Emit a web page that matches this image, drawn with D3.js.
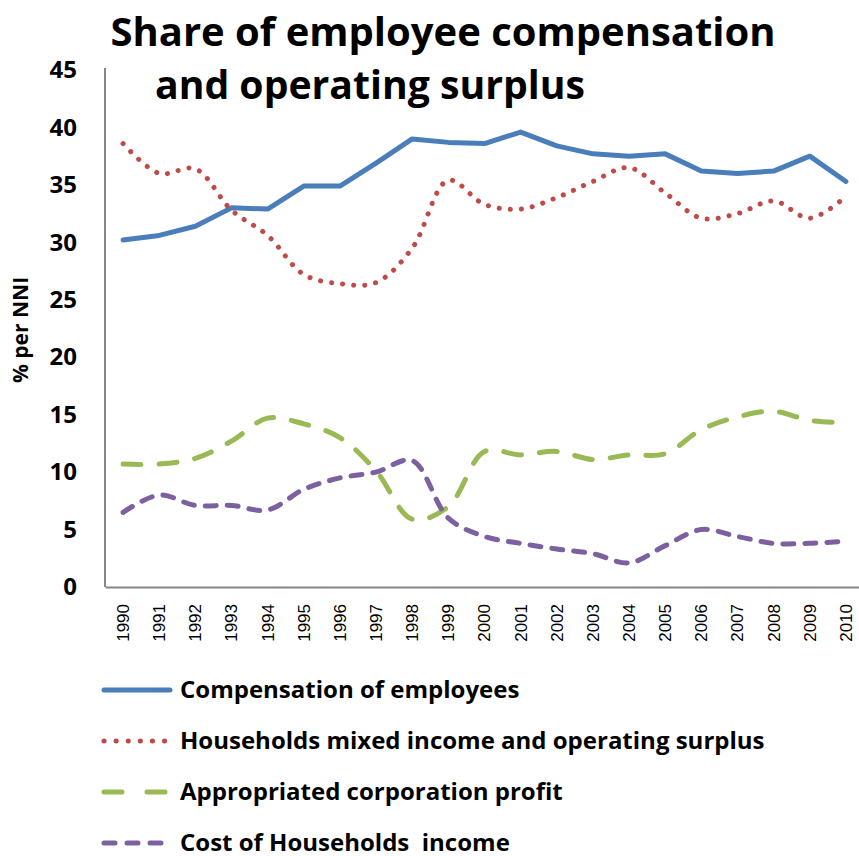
<!DOCTYPE html>
<html>
<head>
<meta charset="utf-8">
<script src="https://cdnjs.cloudflare.com/ajax/libs/d3/7.8.5/d3.min.js"></script>
<style>
  body { margin: 0; background: #fff; }
</style>
</head>
<body>
<div id="chart"></div>
<script>
var years = ['1990','1991','1992','1993','1994','1995','1996','1997','1998','1999','2000',
  '2001','2002','2003','2004','2005','2006','2007','2008','2009','2010'];
var compensation = [30.2, 30.6, 31.4, 33.0, 32.9, 34.9, 34.9, 36.9, 39.0, 38.7, 38.6,
  39.6, 38.4, 37.7, 37.5, 37.7, 36.2, 36.0, 36.2, 37.5, 35.3];
var households = [38.6, 36.0, 36.4, 32.8, 30.6, 27.2, 26.4, 26.5, 29.5, 35.4, 33.3,
  32.9, 33.9, 35.3, 36.5, 34.3, 32.1, 32.5, 33.6, 32.1, 34.0];
var corpProfit = [10.7, 10.7, 11.2, 12.7, 14.7, 14.2, 13.0, 10.1, 5.9, 7.0, 11.8,
  11.5, 11.8, 11.1, 11.5, 11.6, 13.7, 14.8, 15.3, 14.5, 14.3];
var costHouseholds = [6.5, 8.0, 7.1, 7.1, 6.7, 8.5, 9.5, 10.0, 11.0, 6.0, 4.4,
  3.8, 3.3, 2.9, 2.1, 3.6, 5.0, 4.4, 3.8, 3.8, 4.0];
var yTicks = [0, 5, 10, 15, 20, 25, 30, 35, 40, 45];
var seriesNames = ['Compensation of employees', 'Households mixed income and operating surplus',
  'Appropriated corporation profit', 'Cost of Households  income'];

var width = 859, height = 856;
var plotLeft = 105, plotRight = 864, plotTop = 70, plotBottom = 587;
var boldFont = '"Open Sans", "Noto Sans", sans-serif';

var svg = d3.select('#chart').append('svg')
  .attr('width', width)
  .attr('height', height);

var x = d3.scaleBand().domain(years).range([plotLeft, plotRight]);
var y = d3.scaleLinear().domain([0, 45]).range([plotBottom, plotTop]);

// title
svg.append('text')
  .attr('x', 443).attr('y', 46)
  .attr('text-anchor', 'middle')
  .style('font-family', boldFont)
  .attr('font-size', '40px').attr('font-weight', 'bold')
  .attr('textLength', 665).attr('lengthAdjust', 'spacingAndGlyphs')
  .text('Share of employee compensation');
svg.append('text')
  .attr('x', 370).attr('y', 99)
  .attr('text-anchor', 'middle')
  .style('font-family', boldFont)
  .attr('font-size', '40px').attr('font-weight', 'bold')
  .attr('textLength', 430).attr('lengthAdjust', 'spacingAndGlyphs')
  .text('and operating surplus');

// axes
var yAxis = svg.append('g')
  .attr('transform', 'translate(' + plotLeft + ',0)')
  .call(d3.axisLeft(y).tickValues(yTicks).tickSize(0).tickPadding(28));
yAxis.select('.domain').attr('stroke', '#868686').attr('stroke-width', 2)
  .attr('d', 'M0,' + (plotTop - 2) + 'V' + plotBottom);
yAxis.selectAll('text')
  .style('font-family', boldFont)
  .attr('font-size', '24px').attr('font-weight', 'bold').attr('fill', '#000');

var xAxis = svg.append('g')
  .attr('transform', 'translate(0,' + plotBottom + ')')
  .call(d3.axisBottom(x).tickSize(0).tickPadding(0));
xAxis.select('.domain').attr('stroke', '#868686').attr('stroke-width', 2);
xAxis.selectAll('text')
  .style('font-family', '"Liberation Sans", Arial, sans-serif')
  .attr('font-size', '17px').attr('fill', '#000')
  .attr('transform', 'rotate(-90)')
  .attr('text-anchor', 'end')
  .attr('x', -17).attr('y', 0).attr('dy', '0.35em');

svg.append('text')
  .attr('transform', 'translate(28,330) rotate(-90)')
  .attr('text-anchor', 'middle')
  .style('font-family', boldFont)
  .attr('font-size', '21px').attr('font-weight', 'bold')
  .text('% per NNI');

var series = [
  {name: seriesNames[0], values: compensation, color: '#4A7EBB', dash: null, legendDash: null, curve: d3.curveLinear},
  {name: seriesNames[1], values: households, color: '#BE4B48', dash: '0.1 11', legendDash: '0.1 12', curve: d3.curveCatmullRom},
  {name: seriesNames[2], values: corpProfit, color: '#98B954', dash: '18 18', legendDash: '18 25', curve: d3.curveCatmullRom},
  {name: seriesNames[3], values: costHouseholds, color: '#7D60A0', dash: '11 11', legendDash: '11 12', curve: d3.curveCatmullRom}
];

series.forEach(function(s) {
  var line = d3.line()
    .x(function(d, i) { return x(years[i]) + x.bandwidth() / 2; })
    .y(function(d) { return y(d); })
    .curve(s.curve);
  svg.append('path')
    .datum(s.values)
    .attr('fill', 'none')
    .attr('stroke', s.color)
    .attr('stroke-width', 5)
    .attr('stroke-linecap', 'round')
    .attr('stroke-linejoin', 'round')
    .attr('stroke-dasharray', s.dash)
    .attr('d', line);
});

// legend
var legend = svg.selectAll('g.legend')
  .data(series)
  .join('g')
  .attr('class', 'legend')
  .attr('transform', function(d, i) { return 'translate(0,' + (690 + i * 51) + ')'; });
legend.append('line')
  .attr('x1', 104).attr('x2', 170).attr('y1', 0).attr('y2', 0)
  .attr('stroke', function(d) { return d.color; })
  .attr('stroke-width', 5)
  .attr('stroke-linecap', 'round')
  .attr('stroke-dasharray', function(d) { return d.legendDash; });
legend.append('text')
  .attr('x', 180).attr('y', 0).attr('dy', '0.35em')
  .style('font-family', boldFont)
  .style('white-space', 'pre')
  .attr('font-size', '24px').attr('font-weight', 'bold')
  .text(function(d) { return d.name; });
</script>
</body>
</html>
